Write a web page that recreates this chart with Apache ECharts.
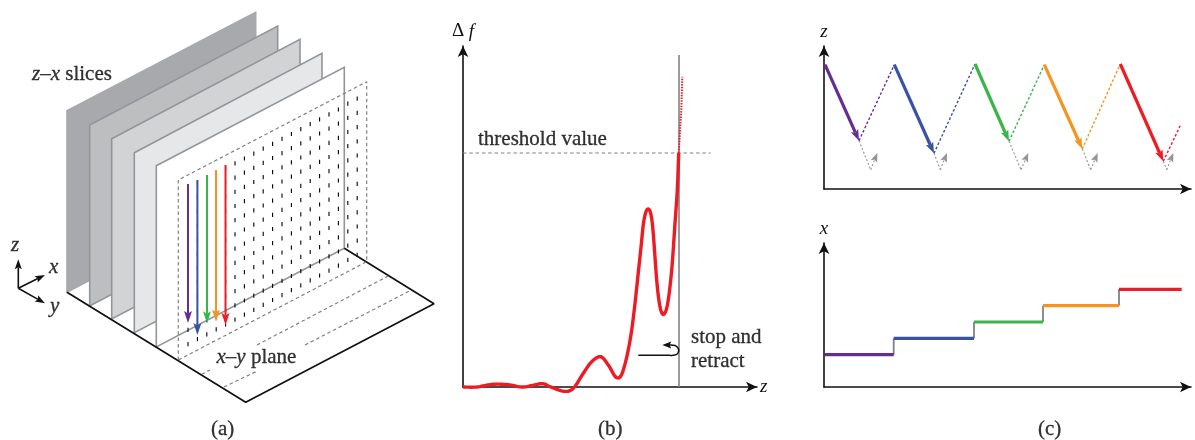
<!DOCTYPE html>
<html><head><meta charset="utf-8">
<script src="https://cdn.jsdelivr.net/npm/echarts@6/dist/echarts.min.js"></script>
<style>html,body{margin:0;padding:0;background:#fff}#c{width:1195px;height:440px}</style>
</head><body><div id="c"></div>
<script>
// ---- shared colours (one per scan line)
const scanColors = ['#662d91','#3953a4','#39b54a','#f7941e','#ed1c24'];
const INK='#111111', GREY='#808285';

// ---- panel (a): schematic
const sliceFill   = ['#a7a9ac','#bcbec0','#d1d3d4','#e6e7e8','#ffffff'];
const sliceEdge   = ['#a7a9ac','#939598','#939598','#939598','#939598'];
const sliceTL = [[67,110.7],[89.7,125],[111.7,138.7],[134.3,152.7],[156.3,165.7]];
const sliceTR = [[255.7,12.3],[277.7,26],[300,39.3],[322,53.3],[344.3,67.3]];
const sliceBR = [[255.7,193.5],[277.7,207.5],[300,220.5],[322,234.5],[344.3,248.3]];
const sliceBL = [[67,292.3],[89.7,306],[111.7,319],[134.3,332.7],[156.3,347]];
const floorEdge = [[67,292.3],[245.7,402.3],[434,303.7],[344.3,248.3]];
const planeOutline = [[178.3,360],[178.3,180],[366.7,81.7],[366.7,261.7],[178.3,360]];
const floorLine2a = [[201.7,374.3],[210,370]];
const floorLine2b = [[257,345],[388.3,276]];
const floorLine3a = [[224,387],[256.7,371.3]];
const floorLine3b = [[305,345],[410,290.7]];
const dashColumnX   = [188,197.4,206.8,216.2,225.6,235,244.4,253.8,263.2,272.6,282,291.4,300.8,310.2,319.6,329,338.4,347.8,357.2];
const dashColumnTop = [187.9,183,178.1,173.2,168.3,163.4,158.5,153.6,148.7,143.8,138.9,134,129.1,124.2,119.3,114.4,109.5,103.6,98.7];
const dashRowOffset = [0,14.2,28.4,42.6,56.8,71,85.2,99.4,113.6,127.8,142,156.2];
const scanArrows = [[188,184,188,323],[197.4,180,197.4,335],[207,175,207,323.3],[216,170,216,321.7],[225.5,165,225.5,325]];
const gizmoArrows = [[18.3,288.3,18.3,259.3],[18.3,288.3,45,275],[18.3,288.3,45,303.3]];
const diagramLabels = [
  [32,74,'{i|z–x}{r| slices}'],[216.5,357,'{i|x–y}{r| plane}'],
  [11,245,'{i|z}'],[49,267,'{i|x}'],[50,306,'{i|y}'],
  [211,429,'{r|(a)}'],[598,429,'{r|(b)}'],[1038,429,'{r|(c)}'],
  [478,139,'{r|threshold value}'],[691,337,'{r|stop and}'],[691,361,'{r|retract}']
];

// ---- panel (b): frequency shift vs z
const curveZ  = [0,13.7,30.3,45.3,60.3,78.7,87,101,110.3,120.3,128.7,137.7,145.3,153.7,160.3,168.7,177,181,185.3,189.3,193.7,197,200.7,204.7,208.7,212,214.3,215.7];
const curveDf = [0,0,2.7,2.3,0,3.3,0.3,-4.3,-1.3,13.7,25.3,30.3,22,9.3,17,57,130.3,167,178,163.7,107,80.3,72.7,83.7,117,163.7,197,234];
const retractZ  = [215.7,218.3,219.3];
const retractDf = [234,277,310.3];
const thresholdLine = [[0,234],[247.7,234]];
const stopLine = [[216,0],[216,332]];
const turnZ  = [175.3,185,195,204,210,214,215.7,213,208,205];
const turnDf = [31.7,31.7,31.7,31.7,31.7,33,37,41,42,42];
const turnHead = [[206,42,199.3,42]];

// ---- panel (c) top: z vs time
const approach = [[1,124.3,35,48.3],[70.3,124.3,110,35.7],[151,125,185,47.7],[220.3,124.3,258.3,40],[296.3,125,339.3,27.7]];
const retreat  = [[35,48.3,70.3,124.3],[110,35.7,151,125],[185,47.7,220.3,124.3],[258.3,40,296.3,125],[339.3,27.7,357,65]];
const greyDown = [[35,48.3,46.7,19.3],[110,35.7,116.3,19.3],[185,47.7,197,19.3],[258.3,40,266.7,19.3],[339.3,27.7,342.7,19.3]];
const greyUp   = [[46.7,19.3,53.3,36],[116.3,19.3,123,36],[197,19.3,204.3,36],[266.7,19.3,273.7,36],[342.7,19.3,349.3,36]];

// ---- panel (c) bottom: x vs time
const stepStart = [1,69.7,150,219,295];
const stepEnd   = [69.7,150,219,295,357.7];
const stepLevel = [32.3,48.7,65,81.3,97.7];

// ---- helpers
const SERIF='"Liberation Serif","Times New Roman",serif';
function path(name,gi,pts,color,width,dash,z){
  return {name,type:'line',xAxisIndex:gi,yAxisIndex:gi,data:pts,symbol:'none',silent:true,clip:false,z:z||3,
    lineStyle:{color,width,type:dash||'solid',cap:'butt'}};
}
// a curve through the read points, drawn as a cardinal spline in pixel space
function spline(name,gi,pts,color,width,z){
  return {name,type:'custom',xAxisIndex:gi,yAxisIndex:gi,coordinateSystem:'cartesian2d',data:[0],silent:true,z:z||3,clip:false,
    renderItem(p,api){
      const c=pts.map(q=>api.coord(q)),out=[];
      for(let i=0;i<c.length-1;i++){
        const a=c[Math.max(i-1,0)],b=c[i],d=c[i+1],e=c[Math.min(i+2,c.length-1)];
        for(let k=0;k<10;k++){
          const t=k/10,t2=t*t,t3=t2*t;
          const f=j=>0.5*(2*b[j]+(d[j]-a[j])*t+(2*a[j]-5*b[j]+4*d[j]-e[j])*t2+(3*b[j]-a[j]-3*d[j]+e[j])*t3);
          out.push([f(0),f(1)]);
        }
      }
      out.push(c[c.length-1]);
      return {type:'polyline',shape:{points:out},style:{stroke:color,lineWidth:width,fill:null,lineJoin:'round'}};
    }};
}
function arrows(name,gi,segs,color,width,dash,L,W,z){
  return {name,type:'custom',xAxisIndex:gi,yAxisIndex:gi,data:segs,silent:true,z:z||3,clip:false,
    renderItem(p,api){
      const s=segs[p.dataIndex],a=api.coord([s[0],s[1]]),b=api.coord([s[2],s[3]]);
      const d=Math.hypot(b[0]-a[0],b[1]-a[1]),u=[(b[0]-a[0])/d,(b[1]-a[1])/d],n=[-u[1],u[0]];
      const e=L?[b[0]-u[0]*L*0.8,b[1]-u[1]*L*0.8]:b, ch=[];
      ch.push({type:'line',shape:{x1:a[0],y1:a[1],x2:e[0],y2:e[1]},style:{stroke:color,lineWidth:width,lineDash:dash||null,fill:null}});
      if(L) ch.push({type:'polygon',shape:{points:[b,[b[0]-u[0]*L+n[0]*W/2,b[1]-u[1]*L+n[1]*W/2],e,[b[0]-u[0]*L-n[0]*W/2,b[1]-u[1]*L-n[1]*W/2]]},style:{fill:color}});
      return {type:'group',children:ch};
    }};
}
function axisPair(l,t,w,h,xMax,yMax,xName,yName){
  const line={show:true,onZero:false,symbol:['none','arrow'],symbolSize:[8,11],symbolOffset:[0,0],lineStyle:{color:INK,width:1.6}};
  return {grid:{left:l,top:t,width:w,height:h},
    x:{type:'value',gridIndex:0,min:0,max:xMax,axisLine:line,axisTick:{show:false},axisLabel:{show:false},splitLine:{show:false},
       name:xName,nameLocation:'end',nameGap:3,nameTextStyle:{fontFamily:SERIF,fontStyle:'italic',fontSize:19,color:INK}},
    y:{type:'value',gridIndex:0,min:0,max:yMax,axisLine:line,axisTick:{show:false},axisLabel:{show:false},splitLine:{show:false},
       name:yName,nameLocation:'end',nameGap:5,
       nameTextStyle:{fontFamily:SERIF,fontStyle:'italic',fontSize:19,color:INK,rich:{a:{fontFamily:SERIF,fontStyle:'normal',fontSize:19,color:INK},b:{fontFamily:SERIF,fontStyle:'italic',fontSize:19,color:INK}}}}};
}
const pb=axisPair(463,46,294,341,294,341,'z','{a|Δ} {b|f}');
const pc=axisPair(824,46,367,143,367,143,'','z');
const pd=axisPair(824,243,367,144,367,144,'','x');
const panels=[pb,pc,pd];
panels.forEach((p,i)=>{p.x.gridIndex=i+1;p.y.gridIndex=i+1;});

const dashCells=[];
dashColumnX.forEach((x,i)=>dashRowOffset.forEach(o=>dashCells.push([x,dashColumnTop[i]+o])));

const series=[];
// slices back to front
sliceTL.forEach((tl,i)=>{
  const poly=[tl,sliceTR[i],sliceBR[i],sliceBL[i]];
  series.push({name:'slice '+(i+1),type:'custom',xAxisIndex:0,yAxisIndex:0,data:[tl],silent:true,z:2,clip:false,
    renderItem(p,api){return {type:'polygon',shape:{points:poly.map(c=>api.coord(c))},
      style:{fill:sliceFill[i],stroke:sliceEdge[i],lineWidth:1.6,lineJoin:'miter'}};}});
});
series.push(path('floor',0,floorEdge,INK,1.7,'solid',3));
series.push(path('plane',0,planeOutline,GREY,1.2,[3.5,2.8],3));
[floorLine2a,floorLine2b,floorLine3a,floorLine3b].forEach((l,i)=>series.push(path('floor line '+i,0,l,GREY,1.2,[3.5,2.8],3)));
series.push({name:'grid dashes',type:'custom',xAxisIndex:0,yAxisIndex:0,data:dashCells,silent:true,z:3,clip:false,
  renderItem(p,api){const c=api.coord([api.value(0),api.value(1)]);
    return {type:'line',shape:{x1:c[0],y1:c[1]-2.1,x2:c[0],y2:c[1]+2.1},style:{stroke:'#000',lineWidth:1.1,fill:null}};}});
scanArrows.forEach((s,i)=>series.push(arrows('scan '+i,0,[s],scanColors[i],2,null,12,8,4)));
series.push(arrows('gizmo',0,gizmoArrows,INK,1.6,null,10,7,4));
// panel b
series.push(path('threshold',1,thresholdLine,GREY,1.2,[3.5,2.8],2));
series.push(path('stop',1,stopLine,GREY,1.6,'solid',2));
series.push(spline('curve',1,curveZ.map((z,i)=>[z,curveDf[i]]),scanColors[4],3.4,4));
series.push(path('curve retract',1,retractZ.map((z,i)=>[z,retractDf[i]]),scanColors[4],2,[1.5,1.2],4));
series.push(spline('turn',1,turnZ.map((z,i)=>[z,turnDf[i]]),INK,1.5,4));
series.push(arrows('turn head',1,turnHead,INK,1.5,null,9,7,4));
// panel c top
approach.forEach((s,i)=>series.push(arrows('approach '+i,2,[s],scanColors[i],3.2,null,11,8,4)));
retreat.forEach((s,i)=>series.push(arrows('retreat '+i,2,[s],scanColors[i],1.4,[2.6,2],0,0,3)));
series.push(arrows('grey down',2,greyDown,'#939598',1.1,[2,2],0,0,2));
series.push(arrows('grey up',2,greyUp,'#939598',1.1,[2,2],9,7,2));
// panel c bottom
stepStart.forEach((s,i)=>{
  if(i>0) series.push(path('riser '+i,3,[[s,stepLevel[i-1]],[s,stepLevel[i]]],GREY,1.8,'solid',2));
  series.push(path('step '+i,3,[[s,stepLevel[i]],[stepEnd[i],stepLevel[i]]],scanColors[i],3.2,'solid',3));
});
// text
const rich={i:{fontFamily:SERIF,fontStyle:'italic',fontSize:21,color:'#000',textBorderColor:'#000',textBorderWidth:0.3},
            r:{fontFamily:SERIF,fontSize:21,color:'#000',textBorderColor:'#000',textBorderWidth:0.3}};
series.push({name:'labels',type:'scatter',xAxisIndex:0,yAxisIndex:0,symbolSize:0,silent:true,z:6,clip:false,
  data:diagramLabels.map(d=>({value:[d[0],d[1]],label:{show:true,position:'right',distance:0,formatter:d[2],rich}}))});

const chart=echarts.init(document.getElementById('c'),null,{renderer:'canvas'});
chart.setOption({
  animation:false,backgroundColor:'#fff',tooltip:{show:false},legend:{show:false},
  grid:[{left:0,top:0,width:1195,height:440,show:false},pb.grid,pc.grid,pd.grid],
  xAxis:[{type:'value',gridIndex:0,min:0,max:1195,show:false},pb.x,pc.x,pd.x],
  yAxis:[{type:'value',gridIndex:0,min:0,max:440,inverse:true,show:false},pb.y,pc.y,pd.y],
  series
});
</script></body></html>
